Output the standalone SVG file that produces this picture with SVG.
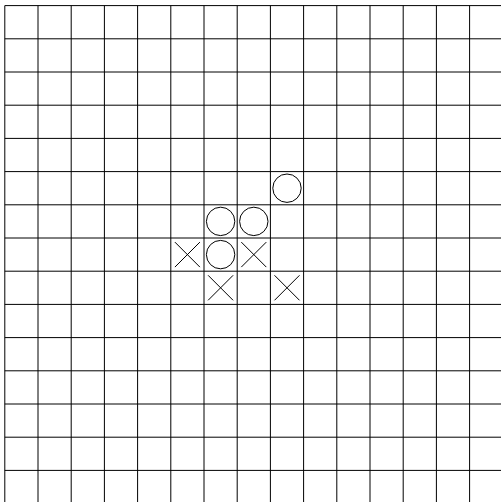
<svg xmlns="http://www.w3.org/2000/svg" xmlns:xlink="http://www.w3.org/1999/xlink" width="501" height="502" viewBox="0 0 501 502">
<style>
.grid{stroke:#000;stroke-width:1;fill:none}
.piece{stroke:#000;stroke-width:1;fill:none}
</style>
<defs>
<circle id="O" cx="0" cy="0" r="14.2" class="piece"/>
<path id="X" d="M-12.5,-12.5L12.5,12.5M12.5,-12.5L-12.5,12.5" class="piece"/>
</defs>
<rect width="501" height="502" fill="#fff"/>
<g id="grid" class="grid">
<path d="M4.8,5.6V502M38,5.6V502M71.2,5.6V502M104.4,5.6V502M137.6,5.6V502M170.8,5.6V502M204,5.6V502M237.2,5.6V502M270.4,5.6V502M303.6,5.6V502M336.8,5.6V502M370,5.6V502M403.2,5.6V502M436.4,5.6V502M469.6,5.6V502"/>
<path d="M4.8,5.6H501M4.8,38.8H501M4.8,72H501M4.8,105.2H501M4.8,138.4H501M4.8,171.6H501M4.8,204.8H501M4.8,238H501M4.8,271.2H501M4.8,304.4H501M4.8,337.6H501M4.8,370.8H501M4.8,404H501M4.8,437.2H501M4.8,470.4H501"/>
</g>
<g id="stones">
<use id="o1" xlink:href="#O" x="287" y="188.2"/>
<use id="o2" xlink:href="#O" x="220.6" y="221.4"/>
<use id="o3" xlink:href="#O" x="253.8" y="221.4"/>
<use id="o4" xlink:href="#O" x="220.6" y="254.6"/>
<use id="x1" xlink:href="#X" x="187.4" y="254.6"/>
<use id="x2" xlink:href="#X" x="253.8" y="254.6"/>
<use id="x3" xlink:href="#X" x="220.6" y="287.8"/>
<use id="x4" xlink:href="#X" x="287" y="287.8"/>
</g>
</svg>
